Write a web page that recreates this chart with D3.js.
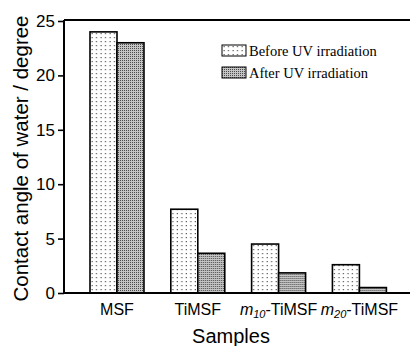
<!DOCTYPE html>
<html>
<head>
<meta charset="utf-8">
<script src="https://cdn.jsdelivr.net/npm/d3@7"></script>
<style>
  body { margin: 0; background: #fff; }
  svg { display: block; }
</style>
</head>
<body>
<div id="chart"></div>
<script>
const width = 410
const height = 346

// data
const samples = ["MSF", "TiMSF", "m10-TiMSF", "m20-TiMSF"]
const seriesNames = ["Before UV irradiation", "After UV irradiation"]
const before = [24.0, 7.7, 4.5, 2.6]
const after = [23.0, 3.65, 1.85, 0.5]
const yTicks = [0, 5, 10, 15, 20, 25]

const data = samples.map((s, i) => ({ sample: s, values: [before[i], after[i]] }))

const svg = d3.select("#chart").append("svg")
    .attr("width", width)
    .attr("height", height)

// fill patterns for the two series
const defs = svg.append("defs")
const pBefore = defs.append("pattern")
    .attr("id", "pat-before")
    .attr("patternUnits", "userSpaceOnUse")
    .attr("width", 4.5).attr("height", 4)
pBefore.append("rect").attr("width", 4.5).attr("height", 4).attr("fill", "#fff")
pBefore.append("rect").attr("x", 1.5).attr("y", 1).attr("width", 1.2).attr("height", 1.2).attr("fill", "#555")

const pAfter = defs.append("pattern")
    .attr("id", "pat-after")
    .attr("patternUnits", "userSpaceOnUse")
    .attr("width", 2).attr("height", 2)
pAfter.append("rect").attr("width", 2).attr("height", 2).attr("fill", "#c4c4c4")
pAfter.append("rect").attr("width", 1).attr("height", 1).attr("fill", "#4a4a4a")

const patterns = ["url(#pat-before)", "url(#pat-after)"]

// scales
const x = d3.scaleBand()
    .domain(samples)
    .range([90, 386.4])
    .paddingInner(0.332)
    .paddingOuter(0)

const xSub = d3.scaleBand()
    .domain([0, 1])
    .range([0, x.bandwidth()])

const y = d3.scaleLinear()
    .domain([0, 25])
    .range([293, 21])

const axisLeft = 64

// bars
const groups = svg.append("g").selectAll("g")
    .data(data)
    .join("g")
    .attr("transform", d => `translate(${x(d.sample)},0)`)

groups.selectAll("rect")
    .data(d => d.values)
    .join("rect")
    .attr("x", (d, i) => xSub(i))
    .attr("y", d => y(d))
    .attr("width", xSub.bandwidth())
    .attr("height", d => y(0) - y(d))
    .attr("fill", (d, i) => patterns[i])
    .attr("stroke", "#000")
    .attr("stroke-width", 1.6)

// frame: top line and bottom axis
svg.append("line")
    .attr("x1", axisLeft).attr("x2", width)
    .attr("y1", 20).attr("y2", 20)
    .attr("stroke", "#000").attr("stroke-width", 2)

svg.append("line")
    .attr("x1", axisLeft).attr("x2", width)
    .attr("y1", y(0)).attr("y2", y(0))
    .attr("stroke", "#000").attr("stroke-width", 2)

// y axis
const yAxis = svg.append("g")
    .attr("transform", `translate(${axisLeft},0)`)
    .call(d3.axisLeft(y).tickValues(yTicks).tickSize(6).tickPadding(3))

yAxis.select(".domain")
    .attr("d", `M0,20V${y(0)}`)
    .attr("stroke-width", 2)
yAxis.selectAll(".tick line").attr("stroke-width", 1.6)
yAxis.selectAll(".tick text")
    .attr("font-family", "Liberation Sans, Arial, sans-serif")
    .attr("font-size", 17)
    .attr("fill", "#000")

// x tick labels (m is italic with an italic subscript)
const xLabels = svg.append("g")
    .attr("font-family", "Liberation Sans, Arial, sans-serif")
    .attr("font-size", 16)
    .attr("text-anchor", "middle")

samples.forEach(s => {
    const t = xLabels.append("text")
        .attr("x", x(s) + x.bandwidth() / 2)
        .attr("y", 315)
    const m = s.match(/^m(\d+)-(.*)$/)
    if (m) {
        t.append("tspan").attr("font-style", "italic").text("m")
        t.append("tspan").attr("font-style", "italic").attr("font-size", 11)
            .attr("dy", 3).text(m[1])
        t.append("tspan").attr("dy", -3).text("-" + m[2])
    } else {
        t.text(s)
    }
})

// axis titles
svg.append("text")
    .attr("x", 231)
    .attr("y", 343)
    .attr("text-anchor", "middle")
    .attr("font-family", "Liberation Sans, Arial, sans-serif")
    .attr("font-size", 20)
    .text("Samples")

svg.append("text")
    .attr("transform", `translate(28,158.5) rotate(-90)`)
    .attr("text-anchor", "middle")
    .attr("font-family", "Liberation Sans, Arial, sans-serif")
    .attr("font-size", 20.5)
    .text("Contact angle of water / degree")

// legend
const legend = svg.append("g")
    .attr("transform", "translate(222,45)")

const legendRows = legend.selectAll("g")
    .data(seriesNames)
    .join("g")
    .attr("transform", (d, i) => `translate(0,${i * 22})`)

legendRows.append("rect")
    .attr("width", 24).attr("height", 11)
    .attr("fill", (d, i) => patterns[i])
    .attr("stroke", "#000")
    .attr("stroke-width", 1)

legendRows.append("text")
    .attr("x", 27)
    .attr("y", 11)
    .attr("font-family", "Liberation Serif, Times New Roman, serif")
    .attr("font-size", 14.5)
    .text(d => d)
</script>
</body>
</html>
